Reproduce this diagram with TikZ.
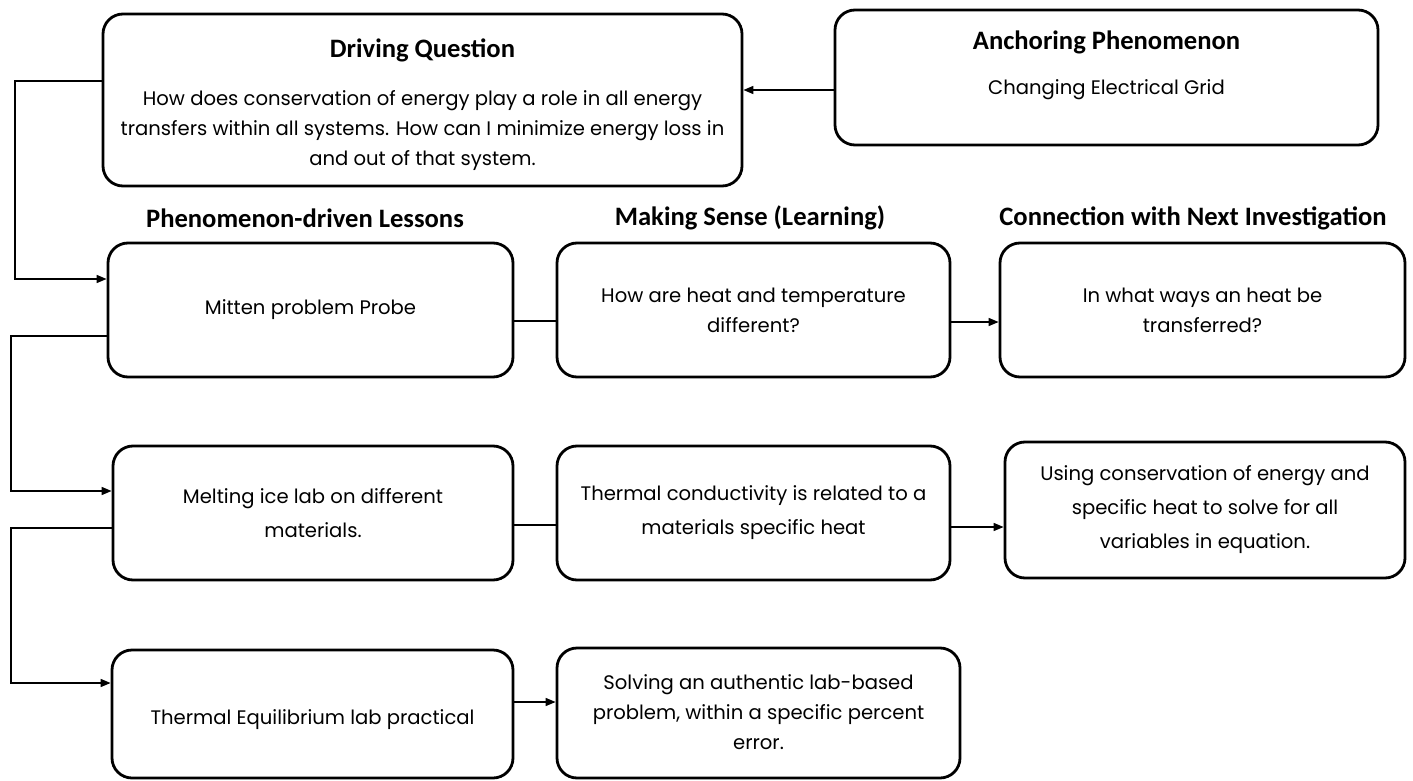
\documentclass[tikz,border=0pt]{standalone}
\usepackage{fontspec}
\setmainfont{Poppins}
\newfontfamily\headfont{Carlito}
\usetikzlibrary{arrows.meta}
\newcommand{\bodysize}{\fontsize{9.8}{15}\selectfont}
\newcommand{\widesize}{\fontsize{9.8}{17}\selectfont}
\begin{document}
\begin{tikzpicture}[x=0.5pt,y=-0.5pt,
  box/.style={draw, line width=1.4pt, rounded corners=10pt, align=center,
    inner sep=0pt, font=\bodysize},
  widebox/.style={box, font=\widesize},
  head/.style={font=\headfont\bfseries\fontsize{13.3}{15}\selectfont, inner sep=0pt},
  body/.style={align=center, font=\bodysize, inner sep=0pt},
  link/.style={line width=0.75pt},
  flow/.style={link, -{Triangle[length=5pt,width=4pt]}}]
\useasboundingbox (0,0) rectangle (1413,781);

% top row
\node[box, minimum width=319.5pt, minimum height=86pt] (dq) at (422.5,100) {};
\node[head] (dqtitle) at (422.5,50) {Driving Question};
\node[body] (dqtext) at (422.5,131) {How does conservation of energy play a role in all energy\\
  transfers within all systems. How can I minimize energy loss in\\
  and out of that system.};
\node[box, minimum width=271.5pt, minimum height=67.5pt] (ap) at (1106.5,77.5) {};
\node[head] (aptitle) at (1106.5,42) {Anchoring Phenomenon};
\node[body] (aptext) at (1106.5,90) {Changing Electrical Grid};

% column headings
\node[head] (h1) at (305,218) {Phenomenon-driven Lessons};
\node[head] (h2) at (750,218) {Making Sense (Learning)};
\node[head] (h3) at (1193,218) {Connection with Next Investigation};

% lesson rows
\node[box, minimum width=202.5pt, minimum height=67pt] (mitten) at (310.5,310) {Mitten problem Probe};
\node[box, minimum width=196.5pt, minimum height=67pt] (heat) at (753.5,310) {How are heat and temperature\\different?};
\node[box, minimum width=202.5pt, minimum height=67pt] (ways) at (1202.5,310) {In what ways an heat be\\transferred?};

\node[widebox, minimum width=200pt, minimum height=67pt] (melt) at (313,513) {Melting ice lab on different\\materials.};
\node[widebox, minimum width=196.5pt, minimum height=67pt] (cond) at (753.5,513) {Thermal conductivity is related to a\\materials specific heat};
\node[widebox, minimum width=200pt, minimum height=68pt] (using) at (1205,510) {Using conservation of energy and\\specific heat to solve for all\\variables in equation.};

\node[box, minimum width=200.5pt, minimum height=64pt, text depth=0pt] (equil) at (312.5,714) {\raisebox{-3pt}{Thermal Equilibrium lab practical}};
\node[box, minimum width=201.5pt, minimum height=65pt] (solve) at (758.5,713) {\raisebox{-2pt}{\begin{tabular}{@{}c@{}}Solving an authentic lab-based\\problem, within a specific percent\\error.\end{tabular}}};

% rails on the left
\coordinate (rail1) at (15,0);
\coordinate (rail2) at (11,0);
\coordinate (dqout) at ([yshift=9.5pt]dq.west);
\coordinate (mitin) at ([yshift=15.5pt]mitten.west);
\coordinate (mitout) at ([yshift=-13pt]mitten.west);
\coordinate (meltin) at ([yshift=11pt]melt.west);
\coordinate (meltout) at ([yshift=-7.5pt]melt.west);
\coordinate (eqin) at ([yshift=15.5pt]equil.west);

\draw[flow] (dqout) -- (dqout -| rail1) -- (mitin -| rail1) -- (mitin);
\draw[flow] (mitout) -- (mitout -| rail2) -- (meltin -| rail2) -- (meltin);
\draw[flow] (meltout) -- (meltout -| rail2) -- (eqin -| rail2) -- (eqin);

% links between columns
\coordinate (a1) at ([yshift=-6.25pt]ap.west);
\draw[flow] (a1) -- (a1 -| dq.east);
\coordinate (m1) at ([yshift=-5.5pt]mitten.east);
\draw[link] (m1) -- (m1 -| heat.west);
\coordinate (k1) at ([yshift=-6pt]heat.east);
\draw[flow] (k1) -- (k1 -| ways.west);
\coordinate (t1) at ([yshift=-6pt]melt.east);
\draw[link] (t1) -- (t1 -| cond.west);
\coordinate (c1) at ([yshift=-7pt]cond.east);
\draw[flow] (c1) -- (c1 -| using.west);
\coordinate (e1) at ([yshift=6pt]equil.east);
\draw[flow] (e1) -- (e1 -| solve.west);
\end{tikzpicture}
\end{document}
